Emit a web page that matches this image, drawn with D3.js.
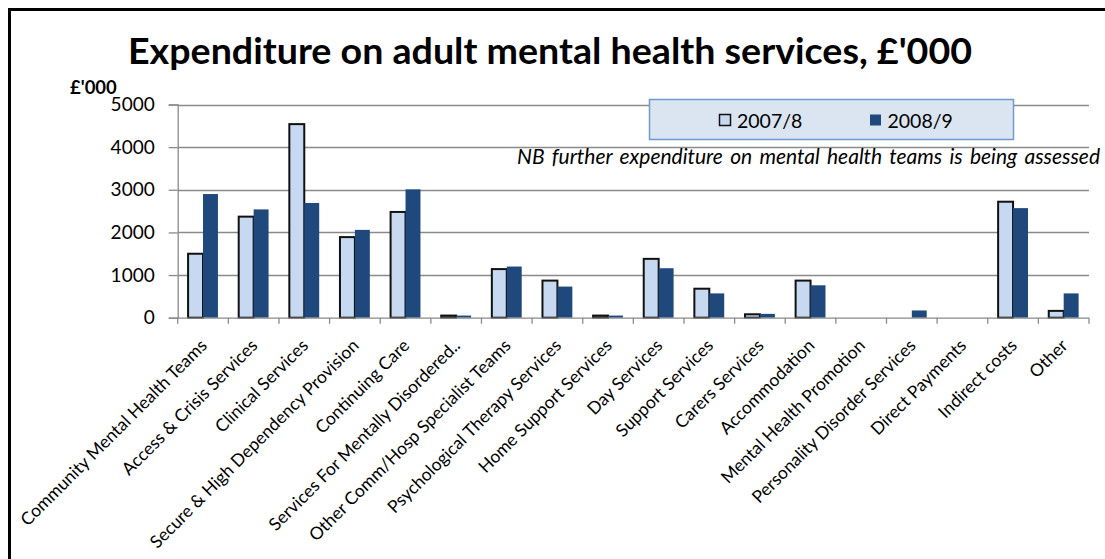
<!DOCTYPE html>
<html>
<head>
<meta charset="utf-8">
<script src="https://cdn.jsdelivr.net/npm/d3@7"></script>
<style>
  html, body { margin: 0; padding: 0; background: #ffffff; }
  svg { display: block; }
  text { font-family: Lato, "Open Sans", "DejaVu Sans", sans-serif; fill: #000; }
</style>
</head>
<body>
<svg id="chart" width="1105" height="559"></svg>
<script>
// Expenditure by service line, £'000
const categories = [
  "Community Mental Health Teams",
  "Access & Crisis Services",
  "Clinical Services",
  "Secure & High Dependency Provision",
  "Continuing Care",
  "Services For Mentally Disordered..",
  "Other Comm/Hosp Specialist Teams",
  "Psychological Therapy Services",
  "Home Support Services",
  "Day Services",
  "Support Services",
  "Carers Services",
  "Accommodation",
  "Mental Health Promotion",
  "Personality Disorder Services",
  "Direct Payments",
  "Indirect costs",
  "Other"
];
const seriesNames = ["2007/8", "2008/9"];
const values2007 = [1500, 2370, 4540, 1890, 2480, 50, 1140, 870, 50, 1380, 680, 80, 870, 0, 0, 0, 2720, 160];
const values2008 = [2900, 2540, 2690, 2060, 3010, 50, 1200, 730, 50, 1160, 570, 90, 760, 0, 170, 0, 2570, 570];
const yTicks = [0, 1000, 2000, 3000, 4000, 5000];

const titleText = "Expenditure on adult mental health services, £'000";
const unitText = "£'000";
const noteText = "NB further expenditure on mental health teams is being assessed";

const colors = { "2007/8": "#c6d9f1", "2008/9": "#1f497d" };
const gridColor = "#8a8a8a";

const svg = d3.select("#chart");

// Outer frame (only the top and left edges fall inside the view)
svg.append("rect")
  .attr("x", 9.5).attr("y", 9.5)
  .attr("width", 1200).attr("height", 700)
  .attr("fill", "none").attr("stroke", "#000").attr("stroke-width", 3);

const plot = { left: 177.7, right: 1089, top: 104.5, bottom: 317.7 };

const x0 = d3.scaleBand()
  .domain(categories)
  .range([plot.left, plot.right])
  .paddingInner(0.41)
  .paddingOuter(0.205);

const x1 = d3.scaleBand()
  .domain(seriesNames)
  .range([0, x0.bandwidth()]);

const y = d3.scaleLinear()
  .domain([0, 5000])
  .range([plot.bottom, plot.top]);

// Horizontal gridlines
svg.append("g")
  .selectAll("line")
  .data(yTicks.filter(d => d > 0))
  .join("line")
  .attr("x1", plot.left).attr("x2", plot.right)
  .attr("y1", d => Math.round(y(d)) + 0.5).attr("y2", d => Math.round(y(d)) + 0.5)
  .attr("stroke", gridColor).attr("stroke-width", 1.3);

// Y axis
const yAxis = svg.append("g")
  .attr("transform", `translate(${plot.left},0)`)
  .call(d3.axisLeft(y).tickValues(yTicks).tickSize(9).tickPadding(14).tickFormat(d3.format("d")));
yAxis.selectAll("path, line").attr("stroke", gridColor).attr("stroke-width", 1.3);
yAxis.selectAll("text").attr("font-size", 19).attr("font-family", "Lato, sans-serif").attr("fill", "#000");

// Grouped bars
const rows = categories.map((c, i) => ({ cat: c, vals: [
  { key: "2007/8", value: values2007[i] },
  { key: "2008/9", value: values2008[i] }
]}));

const groups = svg.append("g")
  .selectAll("g")
  .data(rows)
  .join("g")
  .attr("transform", d => `translate(${x0(d.cat)},0)`);

groups.selectAll("rect")
  .data(d => d.vals.filter(v => v.value > 0))
  .join("rect")
  .attr("x", d => x1(d.key))
  .attr("y", d => y(d.value))
  .attr("width", x1.bandwidth())
  .attr("height", d => y(0) - y(d.value))
  .attr("fill", d => colors[d.key])
  .attr("stroke", d => d.key === "2007/8" ? "#111" : "none")
  .attr("stroke-width", 2);

// X axis with category ticks between groups
const xAxisG = svg.append("g").attr("transform", `translate(0,${plot.bottom})`);
xAxisG.append("line")
  .attr("x1", plot.left).attr("x2", plot.right)
  .attr("y1", 0.5).attr("y2", 0.5)
  .attr("stroke", gridColor).attr("stroke-width", 1.3);
const step = x0.step();
const boundaries = d3.range(categories.length + 1).map(i => plot.left + i * step);
xAxisG.selectAll("line.tick")
  .data(boundaries)
  .join("line")
  .attr("class", "tick")
  .attr("x1", d => d).attr("x2", d => d)
  .attr("y1", 0).attr("y2", 6)
  .attr("stroke", gridColor).attr("stroke-width", 1.3);

// Rotated category labels
xAxisG.selectAll("text")
  .data(categories)
  .join("text")
  .attr("text-anchor", "end")
  .attr("font-size", 17.5)
  .attr("transform", d => `translate(${x0(d) + x0.bandwidth() / 2 + 5},${29}) rotate(-45)`)
  .text(d => d);

// Title
svg.append("text")
  .attr("x", 550).attr("y", 64)
  .attr("text-anchor", "middle")
  .attr("font-weight", "bold")
  .attr("font-size", 36)
  .attr("textLength", 844)
  .attr("lengthAdjust", "spacingAndGlyphs")
  .text(titleText);

// Unit label
svg.append("text")
  .attr("x", 70).attr("y", 94)
  .attr("font-weight", "bold")
  .attr("font-size", 18.5)
  .text(unitText);

// Legend
const legend = svg.append("g");
legend.append("rect")
  .attr("x", 649.5).attr("y", 99.5)
  .attr("width", 364).attr("height", 40)
  .attr("fill", "#dbe5f1").attr("stroke", "#6f9bd2").attr("stroke-width", 1.5);
const legendItems = [
  { key: "2007/8", mx: 719 },
  { key: "2008/9", mx: 869.5 }
];
legend.selectAll("rect.mk")
  .data(legendItems)
  .join("rect")
  .attr("class", "mk")
  .attr("x", d => d.mx + 0.5).attr("y", 114.5)
  .attr("width", 11).attr("height", 11)
  .attr("fill", d => colors[d.key])
  .attr("stroke", d => d.key === "2007/8" ? "#111" : "none")
  .attr("stroke-width", 1.5);
legend.selectAll("text")
  .data(legendItems)
  .join("text")
  .attr("x", d => d.mx + 18).attr("y", 127.5)
  .attr("font-size", 19.5)
  .text(d => d.key);

// Note, spread across its box by widening the gaps between words
const noteWidth = 583;
const note = svg.append("text")
  .attr("x", 1100).attr("y", 164)
  .attr("text-anchor", "end")
  .attr("font-style", "italic")
  .attr("font-size", 21)
  .text(noteText);
const natural = note.node().getComputedTextLength();
const gaps = noteText.split(" ").length - 1;
if (natural > noteWidth) {
  note.attr("textLength", noteWidth).attr("lengthAdjust", "spacingAndGlyphs");
} else {
  note.attr("word-spacing", (noteWidth - natural) / gaps);
}
</script>
</body>
</html>
